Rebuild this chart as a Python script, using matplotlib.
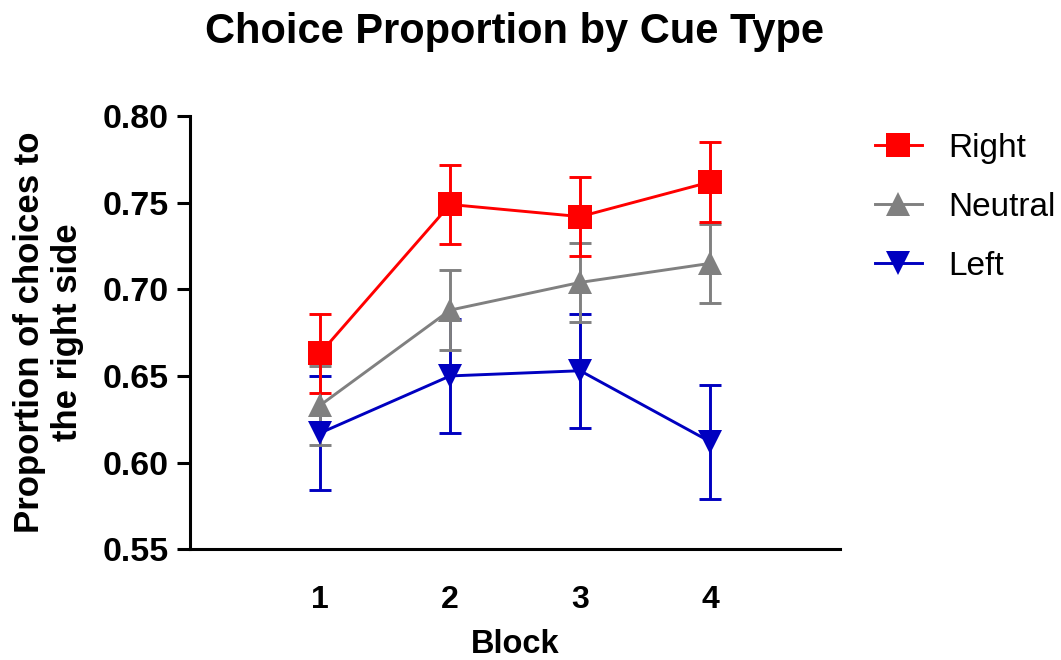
import matplotlib
matplotlib.use("Agg")
import matplotlib.pyplot as plt
import numpy as np

# ======================================================
# Data
# ======================================================
blocks = [1, 2, 3, 4]

right_mean = [0.663, 0.749, 0.742, 0.762]
right_err = [0.023, 0.023, 0.023, 0.023]

neutral_mean = [0.633, 0.688, 0.704, 0.715]
neutral_err = [0.023, 0.023, 0.023, 0.023]

left_mean = [0.617, 0.650, 0.653, 0.612]
left_err = [0.033, 0.033, 0.033, 0.033]

y_ticks = [0.55, 0.60, 0.65, 0.70, 0.75, 0.80]

plt.rcParams['font.family'] = ['Liberation Sans', 'DejaVu Sans']

fig = plt.figure(figsize=(10.61, 6.6), dpi=100)
ax = fig.add_axes([0.179, 0.168, 0.613, 0.656])

series = [
    ("Left", left_mean, left_err, "#0000C0", "v"),
    ("Neutral", neutral_mean, neutral_err, "#808080", "^"),
    ("Right", right_mean, right_err, "#FF0000", "s"),
]

handles = {}
for name, m, e, col, mk in series:
    ax.errorbar(blocks, m, yerr=e, fmt="none", ecolor=col, elinewidth=2.1,
                capsize=8, capthick=2.1, zorder=2)
    ln, = ax.plot(blocks, m, color=col, lw=2.1, marker=mk, markersize=17,
                  markeredgewidth=0, zorder=3, label=name)
    handles[name] = ln

ax.set_xlim(0, 5)
ax.set_ylim(0.55, 0.80)
ax.set_xticks(blocks)
ax.set_yticks(y_ticks)
ax.set_yticklabels(["%.2f" % v for v in y_ticks])

for s in ["top", "right"]:
    ax.spines[s].set_visible(False)
for s in ["left", "bottom"]:
    ax.spines[s].set_linewidth(2.2)

ax.tick_params(axis="x", length=0, pad=26, labelsize=23)
ax.tick_params(axis="y", length=9.5, width=2.2, pad=6, labelsize=24.5)
for lab in ax.get_xticklabels() + ax.get_yticklabels():
    lab.set_fontweight("bold")

ax.set_xlabel("Block", fontsize=23.5, fontweight="bold", labelpad=10)
ax.set_ylabel("Proportion of choices to\nthe right side", fontsize=25,
              fontweight="bold", labelpad=13)

fig.text(0.485, 0.952, "Choice Proportion by Cue Type", ha="center", va="center",
         fontsize=30, fontweight="bold")

leg = fig.legend([handles["Right"], handles["Neutral"], handles["Left"]],
                 ["Right", "Neutral", "Left"],
                 loc="center left", bbox_to_anchor=(0.8247, 0.686),
                 frameon=False, fontsize=24, handlelength=1.4,
                 handletextpad=0.8, labelspacing=0.84, borderpad=0,
                 borderaxespad=0)

fig.savefig("out.png", dpi=100)
